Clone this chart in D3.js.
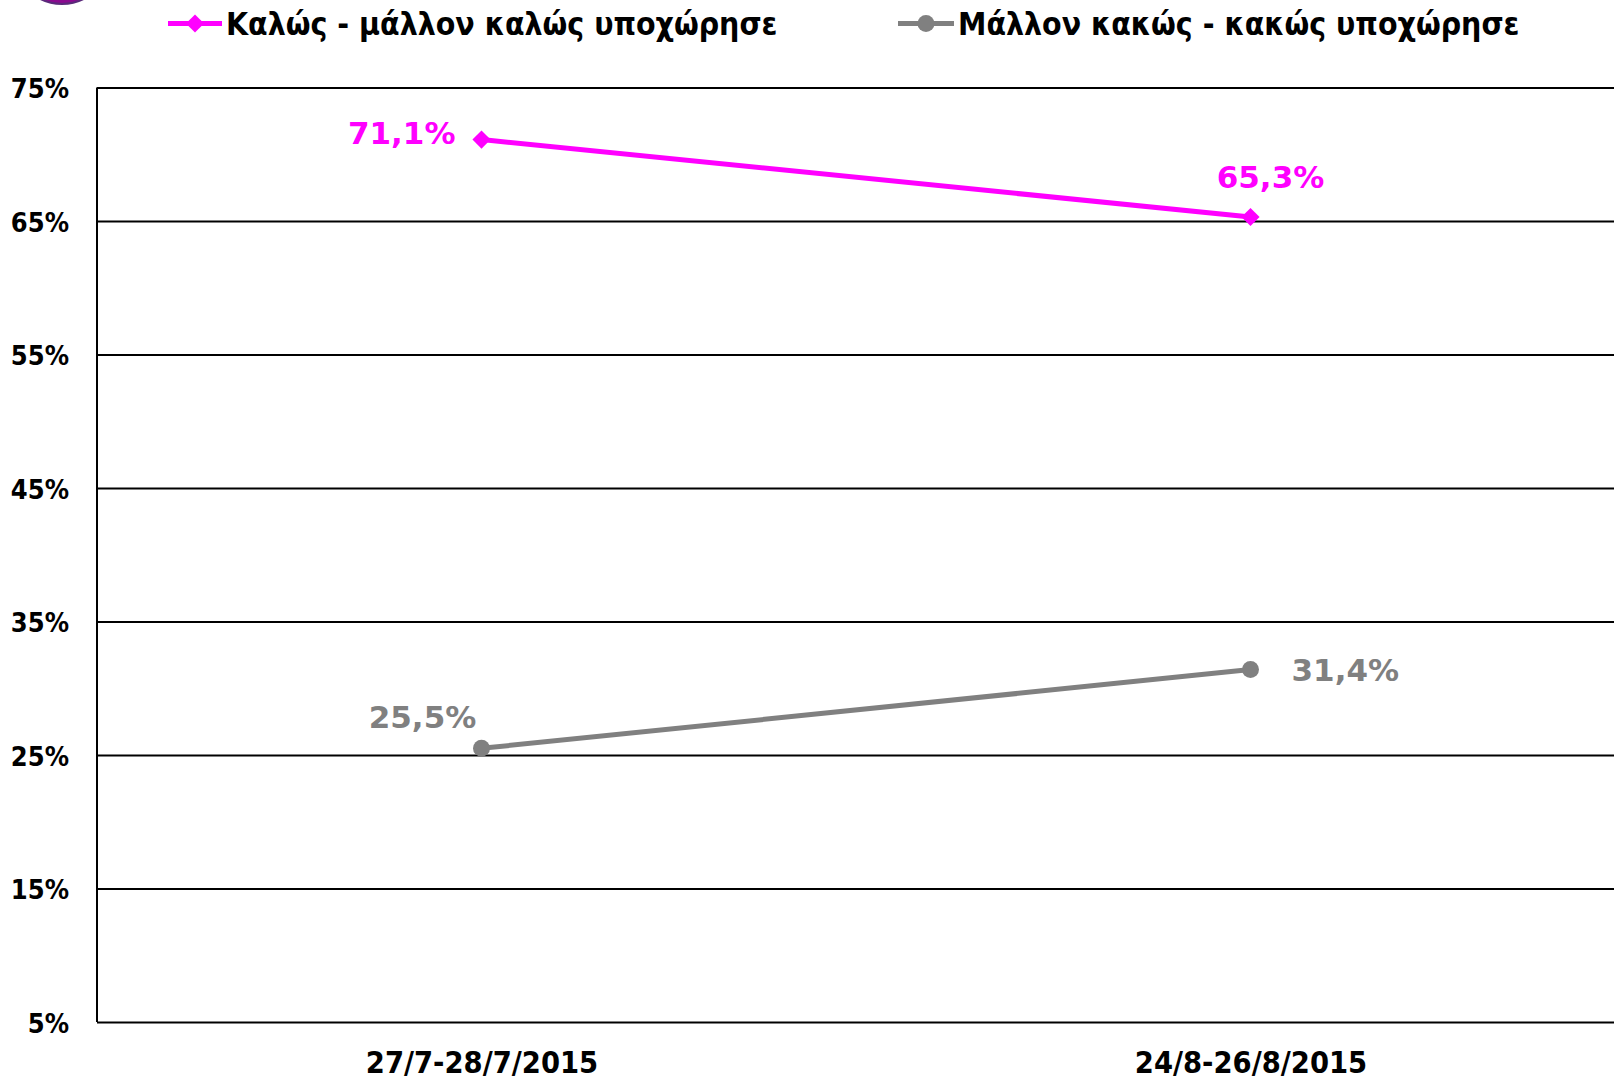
<!DOCTYPE html>
<html>
<head>
<meta charset="utf-8">
<script src="https://cdn.jsdelivr.net/npm/d3@7"></script>
<style>
  html, body { margin: 0; padding: 0; background: #fff; }
  svg { display: block; }
</style>
</head>
<body>
<svg id="chart" width="1614" height="1081"></svg>
<script>
const categories = ["27/7-28/7/2015", "24/8-26/8/2015"];
const seriesNames = ["Καλώς - μάλλον καλώς υποχώρησε", "Μάλλον κακώς - κακώς υποχώρησε"];
const goodValues = [71.1, 65.3];
const badValues = [25.5, 31.4];
const yTicks = [5, 15, 25, 35, 45, 55, 65, 75];

const W = 1614, H = 1081;
const svg = d3.select("#chart");
const condFont = "'DejaVu Sans Condensed', 'Liberation Sans Narrow', 'DejaVu Sans', sans-serif";
const wideFont = "'DejaVu Sans', 'Noto Sans', sans-serif";

const pink = "#ff00ff", gray = "#808080";

const x = d3.scalePoint().domain(categories).range([97, 1635]).padding(0.5);
const y = d3.scaleLinear().domain([5, 75]).range([1022, 87.5]);

// logo fragment at top-left
svg.append("circle").attr("cx", 62).attr("cy", -44).attr("r", 48)
  .attr("fill", "#8a0a8f").attr("stroke", "#5a2a7a").attr("stroke-width", 2);

// gridlines
const grid = svg.append("g")
  .attr("transform", "translate(97,0)")
  .call(d3.axisLeft(y).tickValues(yTicks).tickSize(-1540).tickFormat(""));
grid.select(".domain").remove();
grid.selectAll(".tick line").attr("stroke", "#000").attr("stroke-width", 2);

// y axis line
svg.append("line").attr("x1", 97).attr("x2", 97).attr("y1", y(75)).attr("y2", y(5))
  .attr("stroke", "#000").attr("stroke-width", 2);

// y tick labels
const yAxis = svg.append("g").attr("transform", "translate(69,0)")
  .call(d3.axisLeft(y).tickValues(yTicks).tickSize(0).tickPadding(0).tickFormat(d => d + "%"));
yAxis.select(".domain").remove();
yAxis.selectAll("text")
  .attr("font-family", condFont).attr("font-weight", "bold").attr("font-size", 27)
  .attr("fill", "#000").attr("dy", "0.38em");

// x axis labels
const xAxis = svg.append("g").attr("transform", `translate(0,${y(5)})`)
  .call(d3.axisBottom(x).tickSize(0).tickPadding(29));
xAxis.select(".domain").remove();
xAxis.selectAll("text")
  .attr("font-family", condFont).attr("font-weight", "bold").attr("font-size", 30.5)
  .attr("fill", "#000").attr("dy", "0.71em");

const line = d3.line().x((d, i) => x(categories[i])).y(d => y(d));

// series lines
svg.append("path").datum(goodValues).attr("d", line)
  .attr("fill", "none").attr("stroke", pink).attr("stroke-width", 5);
svg.append("path").datum(badValues).attr("d", line)
  .attr("fill", "none").attr("stroke", gray).attr("stroke-width", 5);

// markers
const diamond = d3.symbol().type(d3.symbolDiamond2).size(210);
svg.selectAll(".pm").data(goodValues).enter().append("path")
  .attr("transform", (d, i) => `translate(${x(categories[i])},${y(d)})`)
  .attr("d", diamond).attr("fill", pink);
svg.selectAll(".gm").data(badValues).enter().append("circle")
  .attr("cx", (d, i) => x(categories[i])).attr("cy", d => y(d)).attr("r", 8.5)
  .attr("fill", gray);

const fmt = v => v.toFixed(1).replace(".", ",") + "%";

// data labels
const goodOffsets = [[-26, -7, "end"], [20, -40, "middle"]];
svg.selectAll(".pl").data(goodValues).enter().append("text")
  .attr("x", (d, i) => x(categories[i]) + goodOffsets[i][0])
  .attr("y", (d, i) => y(d) + goodOffsets[i][1])
  .attr("text-anchor", (d, i) => goodOffsets[i][2])
  .attr("dy", "0.36em")
  .attr("font-family", wideFont).attr("font-weight", "bold").attr("font-size", 31)
  .attr("fill", pink).text(fmt);

const badOffsets = [[-59, -31, "middle"], [41, 0, "start"]];
svg.selectAll(".gl").data(badValues).enter().append("text")
  .attr("x", (d, i) => x(categories[i]) + badOffsets[i][0])
  .attr("y", (d, i) => y(d) + badOffsets[i][1])
  .attr("text-anchor", (d, i) => badOffsets[i][2])
  .attr("dy", "0.36em")
  .attr("font-family", wideFont).attr("font-weight", "bold").attr("font-size", 31)
  .attr("fill", gray).text(fmt);

// legend
const legendItems = [
  { name: seriesNames[0], color: pink, x1: 168, x2: 222, type: "diamond" },
  { name: seriesNames[1], color: gray, x1: 898, x2: 954, type: "circle" }
];
const lg = svg.append("g");
legendItems.forEach(it => {
  const cy = 23.5;
  lg.append("line").attr("x1", it.x1).attr("x2", it.x2).attr("y1", cy).attr("y2", cy)
    .attr("stroke", it.color).attr("stroke-width", 5);
  const cx = (it.x1 + it.x2) / 2;
  if (it.type === "diamond") {
    lg.append("path").attr("transform", `translate(${cx},${cy})`)
      .attr("d", diamond).attr("fill", it.color);
  } else {
    lg.append("circle").attr("cx", cx).attr("cy", cy).attr("r", 8.5).attr("fill", it.color);
  }
  lg.append("text").attr("x", it.x2 + 4).attr("y", cy).attr("dy", "0.36em")
    .attr("font-family", condFont).attr("font-weight", "bold").attr("font-size", 31.7)
    .attr("fill", "#000").text(it.name);
});
</script>
</body>
</html>
